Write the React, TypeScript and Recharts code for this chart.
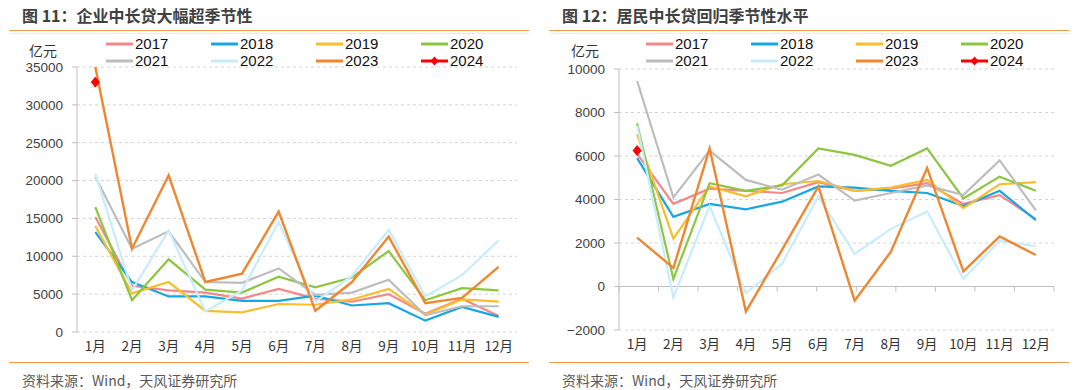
import React from 'react';
import { LineChart, Line, XAxis, YAxis, CartesianGrid, ReferenceLine } from 'recharts';

const months = ['1月', '2月', '3月', '4月', '5月', '6月', '7月', '8月', '9月', '10月', '11月', '12月'];
const years = ['2017', '2018', '2019', '2020', '2021', '2022', '2023', '2024'];
const yearColors = ['#f4878a', '#17a6e2', '#fbbd2c', '#8cc63f', '#bdbdbd', '#c8ecfb', '#ef8630', '#ff0000'];

// 企业中长贷 (亿元)
const corp2017 = [15200, 6100, 5500, 5200, 4400, 5700, 4400, 4000, 5000, 2400, 4400, 2100];
const corp2018 = [13200, 6600, 4700, 4700, 4100, 4100, 4800, 3500, 3800, 1500, 3300, 2000];
const corp2019 = [14000, 5100, 6600, 2800, 2600, 3700, 3600, 4300, 5700, 2300, 4300, 4000];
const corp2020 = [16500, 4200, 9600, 5600, 5200, 7300, 5900, 7200, 10700, 4200, 5800, 5500];
const corp2021 = [20500, 11000, 13300, 6600, 6500, 8400, 4900, 5200, 6900, 2200, 3400, 3400];
const corp2022 = [20900, 5500, 13400, 2700, 5500, 14500, 4000, 7400, 13500, 4700, 7500, 12100];
const corp2023 = [35000, 11000, 20700, 6600, 7700, 15900, 2800, 6600, 12600, 3800, 4500, 8600];
const corp2024 = [33000, null, null, null, null, null, null, null, null, null, null, null];

// 居民中长贷 (亿元)
const res2017 = [6100, 3800, 4500, 4400, 4300, 4800, 4400, 4500, 4750, 3800, 4200, 3100];
const res2018 = [5900, 3200, 3800, 3550, 3900, 4600, 4550, 4400, 4300, 3700, 4400, 3050];
const res2019 = [7000, 2200, 4600, 4150, 4700, 4850, 4400, 4550, 4900, 3600, 4700, 4800];
const res2020 = [7500, 350, 4750, 4400, 4650, 6350, 6050, 5550, 6350, 4050, 5050, 4400];
const res2021 = [9450, 4100, 6250, 4900, 4450, 5150, 3950, 4300, 4650, 4200, 5800, 3500];
const res2022 = [7400, -500, 3700, -300, 1050, 4150, 1500, 2650, 3450, 350, 2100, 1850];
const res2023 = [2250, 850, 6350, -1150, 1700, 4600, -650, 1600, 5450, 700, 2300, 1450];
const res2024 = [6250, null, null, null, null, null, null, null, null, null, null, null];

const corpTicks = [0, 5000, 10000, 15000, 20000, 25000, 30000, 35000];
const resTicks = [-2000, 0, 2000, 4000, 6000, 8000, 10000];
const bandEdges = [0, 1, 2, 3, 4, 5, 6, 7, 8, 9, 10, 11, 12];

const corpSeries = [corp2017, corp2018, corp2019, corp2020, corp2021, corp2022, corp2023, corp2024];
const resSeries = [res2017, res2018, res2019, res2020, res2021, res2022, res2023, res2024];

const buildRows = (series: (number | null)[][]) =>
  months.map((m, i) => {
    const row: Record<string, any> = { month: m };
    years.forEach((y, k) => {
      row['y' + y] = series[k][i];
    });
    return row;
  });

const corpData = buildRows(corpSeries);
const resData = buildRows(resSeries);

const NUM_FONT = '"Liberation Sans", Arial, sans-serif';
const CJK_FONT = '"Noto Sans CJK SC", "Liberation Sans", sans-serif';
const AXIS_GRAY = '#bfbfbf';

const Diamond = (props: any) => {
  const { cx, cy, value } = props;
  if (value === null || value === undefined || cx == null || cy == null) return <g key={props.key ?? props.index} />;
  const s = 5;
  return (
    <path
      key={props.key ?? props.index}
      d={`M${cx},${cy - s} L${cx + s * 0.8},${cy} L${cx},${cy + s} L${cx - s * 0.8},${cy} Z`}
      fill="#ff0000"
      stroke="#ff0000"
      strokeWidth={1}
    />
  );
};

const fmt = (v: number) => (v < 0 ? '−' + Math.abs(v) : String(v));

const LegendBlock = () => (
  <div
    style={{
      position: 'absolute',
      left: 106,
      top: 35,
      display: 'grid',
      gridTemplateColumns: 'repeat(4, 105px)',
      fontFamily: NUM_FONT,
      fontSize: 15,
      lineHeight: '17px',
      color: '#111',
    }}
  >
    {years.map((y, k) => (
      <div key={y} style={{ display: 'flex', alignItems: 'center', height: 17 }}>
        <svg width={29} height={12} style={{ display: 'block' }}>
          <line x1={0} x2={27} y1={6} y2={6} stroke={yearColors[k]} strokeWidth={3} />
          {y === '2024' && <path d="M13.5,1.5 L17.5,6 L13.5,10.5 L9.5,6 Z" fill="#ff0000" />}
        </svg>
        <span>{y}</span>
      </div>
    ))}
  </div>
);

type PanelProps = {
  left: number;
  title: string;
  data: any[];
  ticks: number[];
  domain: [number, number];
  margin: { top: number; right: number; bottom: number; left: number };
  zeroMid: boolean;
};

const Panel = ({ left, title, data, ticks, domain, margin, zeroMid }: PanelProps) => (
  <div style={{ position: 'absolute', left, top: 0, width: 540, height: 390 }}>
    <div
      style={{
        position: 'absolute',
        left: 22,
        top: 4,
        fontFamily: CJK_FONT,
        fontSize: 16,
        fontWeight: 700,
        color: '#404040',
        lineHeight: '22px',
        whiteSpace: 'nowrap',
      }}
    >
      {title}
    </div>
    <div style={{ position: 'absolute', left: 9, top: 29.5, width: 520, height: 1.5, background: '#ef9a4c' }} />
    <div style={{ position: 'absolute', left: 9, top: 33, width: 520, height: 1, background: '#ececec' }} />
    <div style={{ position: 'absolute', left: 9, top: 361.5, width: 520, height: 1.5, background: '#ef9a4c' }} />
    <div
      style={{
        position: 'absolute',
        left: 22,
        top: 370,
        fontFamily: CJK_FONT,
        fontSize: 14,
        color: '#595959',
        lineHeight: '20px',
        whiteSpace: 'nowrap',
      }}
    >
      资料来源：Wind，天风证券研究所
    </div>
    <div
      style={{
        position: 'absolute',
        left: left === 0 ? 29 : 31,
        top: 41,
        fontFamily: CJK_FONT,
        fontSize: 14,
        color: '#333',
        lineHeight: '18px',
      }}
    >
      亿元
    </div>
    <LineChart width={540} height={390} data={data} margin={margin} style={{ position: 'absolute', left: 0, top: 0 }}>
      <CartesianGrid xAxisId="cat" vertical={false} stroke="#d4d4d4" strokeDasharray="3 3" />
      <XAxis
        xAxisId="edge"
        type="number"
        domain={[0, 12]}
        ticks={bandEdges}
        tick={false}
        height={0}
        hide={zeroMid}
        axisLine={{ stroke: AXIS_GRAY }}
        tickLine={{ stroke: AXIS_GRAY }}
        tickSize={5}
      />
      <XAxis
        xAxisId="cat"
        dataKey="month"
        scale="band"
        height={30}
        axisLine={false}
        tickLine={false}
        tickSize={0}
        tickMargin={9}
        interval={0}
        tick={{ fontFamily: CJK_FONT, fontSize: 13.5, fill: '#333' }}
      />
      <YAxis
        domain={domain}
        ticks={ticks}
        allowDataOverflow
        width={60}
        interval={0}
        tickFormatter={fmt}
        axisLine={{ stroke: AXIS_GRAY }}
        tickLine={{ stroke: AXIS_GRAY }}
        tickSize={5}
        tickMargin={9}
        tick={{ fontFamily: NUM_FONT, fontSize: 13.5, fill: '#404040' }}
      />
      {zeroMid && <ReferenceLine xAxisId="edge" y={0} stroke={AXIS_GRAY} strokeWidth={1} />}
      {zeroMid &&
        bandEdges.map((e) => (
          <ReferenceLine
            key={'t' + e}
            xAxisId="edge"
            segment={[
              { x: e, y: 0 },
              { x: e, y: -230 },
            ]}
            stroke={AXIS_GRAY}
            strokeWidth={1}
          />
        ))}
      {years.map((y, k) => (
        <Line
          key={y}
          xAxisId="cat"
          type="linear"
          dataKey={'y' + y}
          stroke={yearColors[k]}
          strokeWidth={y === '2023' ? 2.4 : 2.2}
          dot={y === '2024' ? (p: any) => <Diamond {...p} /> : false}
          activeDot={false}
          isAnimationActive={false}
          connectNulls={false}
        />
      ))}
    </LineChart>
    <LegendBlock />
  </div>
);

export default function App() {
  return (
    <div style={{ position: 'absolute', left: 0, top: 0, width: 1080, height: 390, background: '#fff', overflow: 'hidden' }}>
      <Panel
        left={0}
        title="图 11：企业中长贷大幅超季节性"
        data={corpData}
        ticks={corpTicks}
        domain={[0, 35000]}
        margin={{ top: 67, right: 23, bottom: 28, left: 17 }}
        zeroMid={false}
      />
      <Panel
        left={540}
        title="图 12：居民中长贷回归季节性水平"
        data={resData}
        ticks={resTicks}
        domain={[-2000, 10000]}
        margin={{ top: 69, right: 26, bottom: 30, left: 19 }}
        zeroMid={true}
      />
    </div>
  );
}
